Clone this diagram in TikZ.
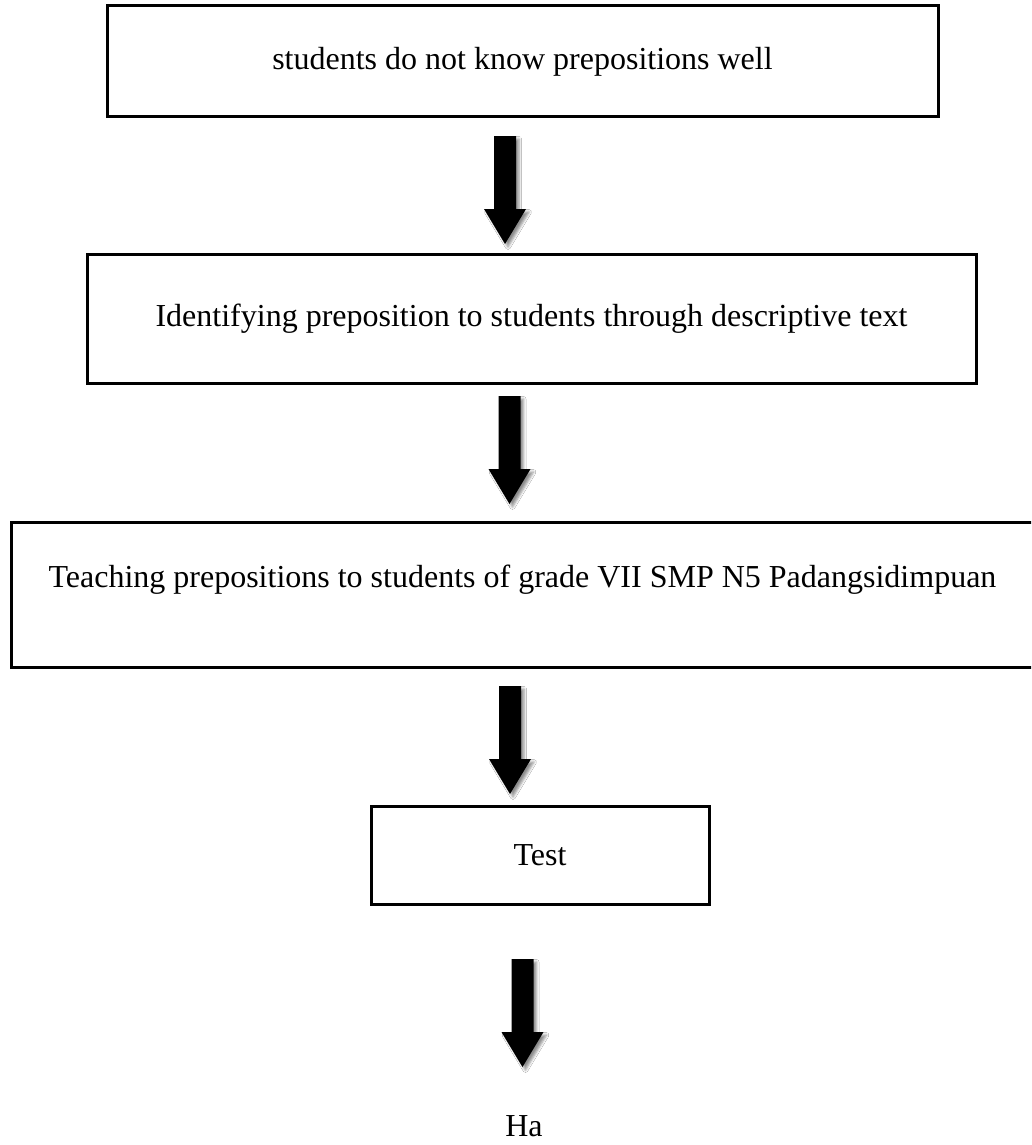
\documentclass[tikz,border=0pt]{standalone}
\usepackage{fontspec}
\setmainfont{Liberation Serif}
\usetikzlibrary{shadows.blur}
\begin{document}
\begin{tikzpicture}[x=1pt,y=-1pt,
  box/.style={draw=black,line width=3pt,rectangle,inner sep=0pt,fill=white},
  txt/.style={font=\fontsize{32}{38}\selectfont},
  pics/blockarrow/.style={code={
    \fill[black,blur shadow={shadow xshift=3pt,shadow yshift=-3pt,shadow blur radius=2.5pt,shadow opacity=45}]
      (-11,0) -- (11,0) -- (11,73) -- (21,73) -- (0,108) -- (-21,73) -- (-11,73) -- cycle;}}]
\useasboundingbox (0,0) rectangle (1031,1145);
\clip (0,0) rectangle (1031,1145);
\fill[white] (0,0) rectangle (1031,1145);

\node[box,txt,minimum width=831pt,minimum height=111pt] (b1) at (522.5,61.5) {students do not know prepositions well};
\node[box,txt,minimum width=889pt,minimum height=129pt] (b2) at (531.5,318.5) {Identifying preposition to students through descriptive text};
\node[box,txt,minimum width=1023pt,text height=65pt,text depth=80pt] (b3) at (522.5,594.5) {Teaching prepositions to students of grade VII SMP N5 Padangsidimpuan};
\node[box,txt,minimum width=338pt,minimum height=98pt] (b4) at (540,855) {Test};
\node[txt,inner sep=0pt] (ha) at (524,1126) {Ha};

\coordinate (a1) at (505,136);
\coordinate (a2) at (509.5,396);
\coordinate (a3) at (510,686);
\coordinate (a4) at (522.5,959);
\pic at (a1) {blockarrow};
\pic at (a2) {blockarrow};
\pic at (a3) {blockarrow};
\pic at (a4) {blockarrow};
\end{tikzpicture}
\end{document}
